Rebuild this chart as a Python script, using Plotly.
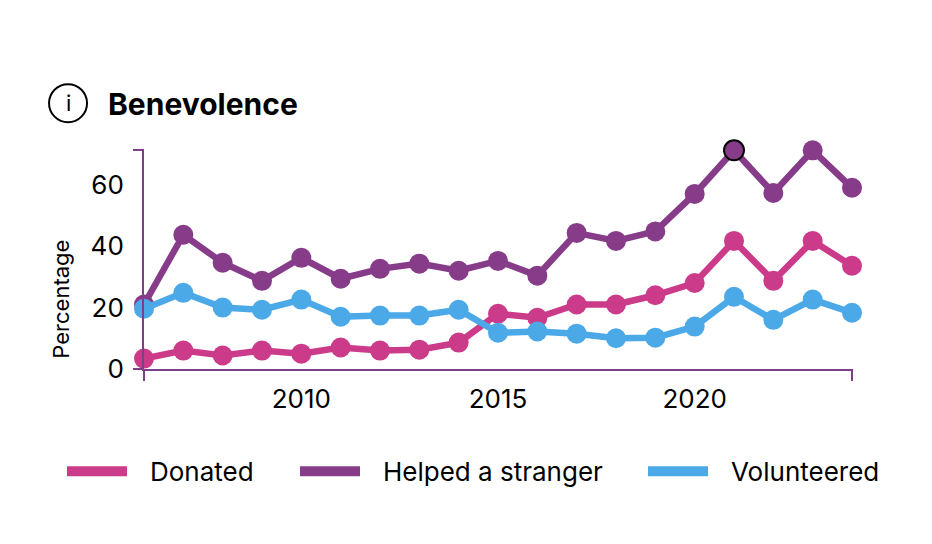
import plotly.graph_objects as go

years = list(range(2006, 2025))
donated = [3.4, 6, 4.4, 6, 5, 7, 6, 6.3, 8.6, 18, 16.7, 21, 21, 24, 28, 41.7, 28.7, 41.7, 33.6]
helped = [21, 43.7, 34.6, 28.7, 36.2, 29.4, 32.6, 34.3, 32, 35.2, 30.4, 44.3, 41.7, 44.8, 57, 71.2, 57.3, 71.2, 59]
volunteered = [19.6, 24.8, 20, 19.3, 22.6, 17, 17.4, 17.4, 19.3, 11.8, 12.2, 11.5, 10, 10.2, 13.8, 23.5, 16, 22.6, 18.3]
series_names = ["Donated", "Helped a stranger", "Volunteered"]
colors = ["#CC3A8A", "#873C8A", "#4BA9E8"]
y_ticks = [0, 20, 40, 60]
x_ticks = [2010, 2015, 2020]
highlight_year = 2021
title = "Benevolence"
y_title = "Percentage"

FONT = "Inter"
AXIS = "#7F3F87"

fig = go.Figure()
for name, vals, col in zip(series_names, [donated, helped, volunteered], colors):
    hl = name == "Helped a stranger"
    fig.add_trace(go.Scatter(
        x=years, y=vals, name=name, mode="lines+markers", cliponaxis=False,
        line=dict(color=col, width=6.5),
        marker=dict(color=col, size=20,
                    line=dict(color="black",
                              width=[2 if hl and y == highlight_year else 0 for y in years])),
        showlegend=False,
    ))

shapes = [
    dict(type="line", xref="x domain", yref="y domain", x0=-0.0155, x1=0, y0=1, y1=1, line=dict(color=AXIS, width=2)),
    dict(type="line", xref="x domain", yref="y domain", x0=-0.0155, x1=0, y0=0, y1=0, line=dict(color=AXIS, width=2)),
    dict(type="line", xref="x domain", yref="y domain", x0=0, x1=0, y0=0, y1=-0.055, line=dict(color=AXIS, width=2)),
    dict(type="line", xref="x domain", yref="y domain", x0=1, x1=1, y0=0, y1=-0.055, line=dict(color=AXIS, width=2)),
    dict(type="circle", xref="paper", yref="paper", xsizemode="pixel", ysizemode="pixel",
         xanchor=-0.1073, yanchor=1.2137, x0=-19, x1=19, y0=-19, y1=19, line=dict(color="black", width=2)),
]
annotations = [
    dict(text=f"<b>{title}</b>", xref="paper", yref="paper", x=-0.0538, y=1.2092, xanchor="left", yanchor="middle",
         showarrow=False, font=dict(family=FONT, size=30, color="black")),
    dict(text="i", xref="paper", yref="paper", x=-0.1073, y=1.2137, xanchor="center", yanchor="middle",
         showarrow=False, font=dict(family=FONT, size=22, color="black")),
    dict(text=y_title, xref="paper", yref="paper", x=(61 - 144) / 708, y=(369.5 - 300) / 219.5, xanchor="center",
         yanchor="middle", textangle=-90, showarrow=False, font=dict(family=FONT, size=22, color="black")),
]
# legend drawn to the reference's spacing
legend_x = [67, 300, 648]
for lx, name, col in zip(legend_x, series_names, colors):
    x0 = (lx - 144) / 708
    x1 = (lx + 60 - 144) / 708
    y = (369.5 - 472) / 219.5
    shapes.append(dict(type="rect", xref="paper", yref="paper", x0=x0, x1=x1, y0=y - 5 / 219.5, y1=y + 5 / 219.5,
                       fillcolor=col, line=dict(width=0)))
    annotations.append(dict(text=name, xref="paper", yref="paper", x=(lx + 81 - 144) / 708, y=y, xanchor="left",
                            yanchor="middle", showarrow=False, font=dict(family=FONT, size=26, color="black")))

fig.update_layout(
    width=916, height=528, autosize=False,
    margin=dict(l=136, r=72, t=142, b=166.5),
    paper_bgcolor="white", plot_bgcolor="white",
    showlegend=False, shapes=shapes, annotations=annotations,
    font=dict(family=FONT, color="black"),
    xaxis=dict(range=[2006, 2024], tickmode="array", tickvals=x_ticks, ticks="", ticklabelstandoff=6,
               showgrid=False, zeroline=False, showline=True, linecolor=AXIS, linewidth=2,
               tickfont=dict(family=FONT, size=26, color="black")),
    yaxis=dict(range=[0, 71.3], tickmode="array", tickvals=y_ticks, ticks="", ticklabelstandoff=13,
               showgrid=False, zeroline=False, showline=True, linecolor=AXIS, linewidth=2,
               tickfont=dict(family=FONT, size=26, color="black")),
)
fig.write_html("out.html", config=dict(displayModeBar=False))
